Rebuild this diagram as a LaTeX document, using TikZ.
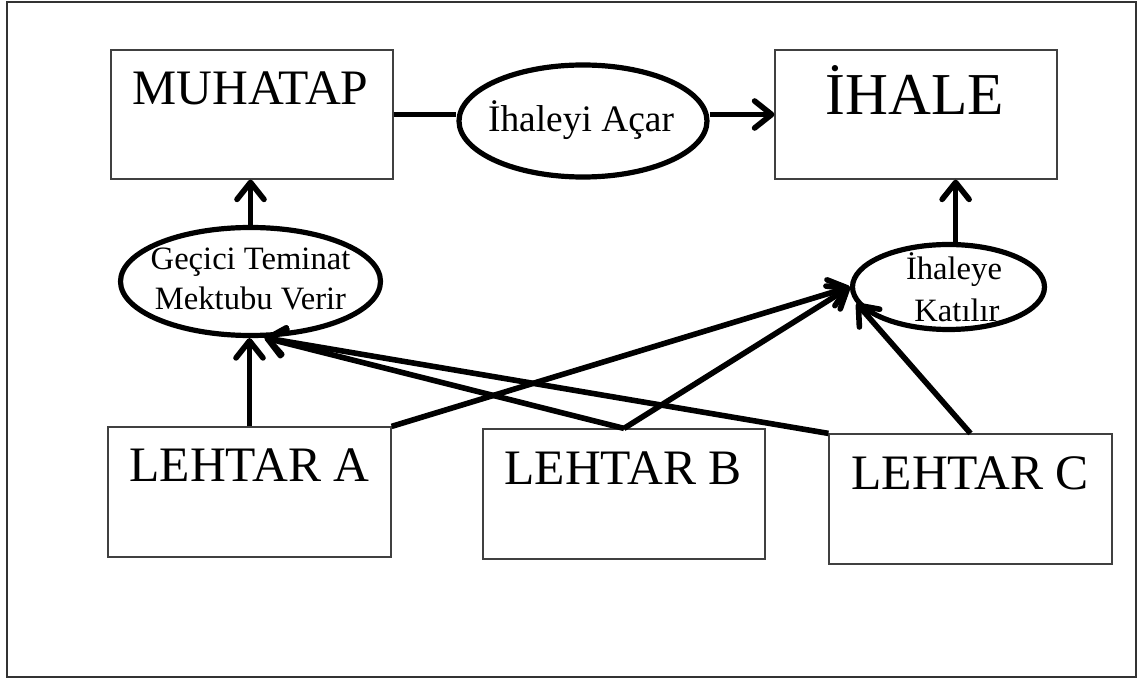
\documentclass[tikz,border=0pt]{standalone}
\usepackage{fontspec}
\setmainfont{Liberation Serif}
\usetikzlibrary{shapes.geometric,arrows.meta}
\begin{document}
\begin{tikzpicture}[x=0.5pt,y=-0.5pt,
  box/.style={draw=black!75, line width=0.6pt, minimum width=141pt,
    minimum height=64.5pt, inner sep=0pt},
  oval/.style={ellipse, draw, line width=2.6pt, inner sep=0pt},
  big/.style={font=\fontsize{24.8}{29}\selectfont, anchor=base, inner sep=0pt},
  small/.style={font=\fontsize{16.3}{19}\selectfont, anchor=base, inner sep=0pt},
  link/.style={line width=2.8pt},
  arr/.style={link, -{Straight Barb[length=8.5pt,width=13.5pt,round]}},
]
\useasboundingbox (0,0) rectangle (1137,679);
\draw[black!80, line width=1pt] (7,2) rectangle (1135.5,677);

% top row
\node[box] (muhatap) at (252,114.5) {};
\node[big] (muhatapText) at (250.5,105) {MUHATAP};
\node[box] (ihale) at (916,114.5) {};
\node[big, font=\fontsize{29.7}{35}\selectfont] (ihaleText) at (915,115) {İHALE};
\node[oval, minimum width=124pt, minimum height=56pt] (acar) at (583,121) {};
\node[font=\fontsize{18.7}{22}\selectfont, anchor=base, inner sep=0pt] (acarText) at (581,132) {İhaleyi Açar};

% middle ellipses
\node[oval, minimum width=130pt, minimum height=54pt] (gecici) at (250.5,281.5) {};
\node[small] (geciciA) at (250.5,270) {Geçici Teminat};
\node[small] (geciciB) at (250.5,310) {Mektubu Verir};
\node[oval, minimum width=96pt, minimum height=42.5pt] (katilir) at (948.5,287) {};
\node[small] (katilirA) at (954,280) {İhaleye};
\node[small] (katilirB) at (957,322) {Katılır};

% bottom row
\node[box, minimum width=141.5pt, minimum height=65pt] (lehtarA) at (249.5,492) {};
\node[big] (lehtarAText) at (249.5,482) {LEHTAR A};
\node[box, minimum height=65pt] (lehtarB) at (624,494) {};
\node[big] (lehtarBText) at (623,485) {LEHTAR B};
\node[box, minimum width=141.5pt, minimum height=65pt] (lehtarC) at (970.5,499) {};
\node[big] (lehtarCText) at (970,490) {LEHTAR C};

% connectors
\draw[link] (muhatap.east) -- (muhatap.east -| acar.west);
\draw[arr] (ihale.west -| acar.east) -- (ihale.west);
\draw[arr] (gecici.north) -- (gecici.north |- muhatap.south);
\draw[arr] (katilir.81) -- (katilir.81 |- ihale.south);
\draw[arr] (lehtarA.north) -- (lehtarA.north |- gecici.south);
\draw[arr] (lehtarB.north) -- (gecici.-76);
\draw[arr] (lehtarC.north west) -- (gecici.-76);
\draw[arr] (lehtarA.north east) -- (katilir.west);
\draw[arr] (lehtarB.north) -- (katilir.west);
\draw[arr] (lehtarC.north) -- (katilir.190);
\end{tikzpicture}
\end{document}
